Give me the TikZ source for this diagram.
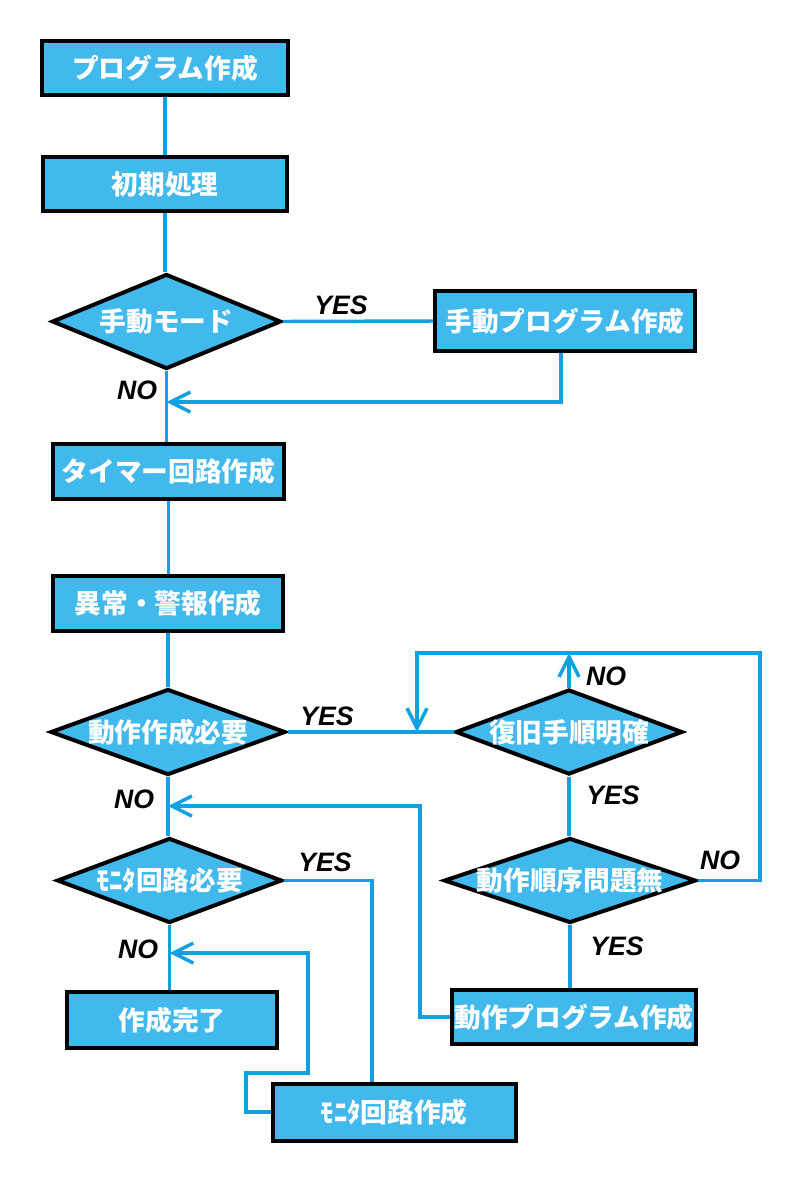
\documentclass[tikz,border=0pt]{standalone}
\usepackage{fontspec}
\setmainfont{Liberation Sans}
\newfontfamily\jp{Noto Sans CJK JP}
\usetikzlibrary{shapes.geometric,arrows.meta}
\definecolor{fillblue}{RGB}{65,185,237}
\definecolor{lineblue}{RGB}{18,160,225}
\newcommand\cjkt[1]{\makebox[0pt][c]{#1}}
\begin{document}
\begin{tikzpicture}[x=0.75pt,y=-0.75pt,
  box/.style={draw=black,line width=3pt,fill=fillblue,rectangle,inner sep=0pt,text=white,
    font=\jp\bfseries\fontsize{20pt}{24pt}\selectfont},
  dia/.style={box,diamond,aspect=2.5},
  conn/.style={draw=lineblue,line width=2.6pt},
  arr/.style={conn,-{Straight Barb[length=15pt,width=15pt]}},
  lbl/.style={font=\bfseries\itshape\fontsize{20pt}{24pt}\selectfont,text=black,inner sep=0pt}]
\useasboundingbox (0,0) rectangle (801,1200);
% nodes
\node[box,minimum width=184.5pt,minimum height=40.5pt] (b1) at (165,68) {\cjkt{プログラム作成}};
\node[box,minimum width=183pt,minimum height=40.5pt] (b2) at (165,184) {\cjkt{初期処理}};
\node[dia,minimum width=171.75pt,minimum height=71.25pt] (d1) at (166.5,321.5) {\cjkt{手動モード}};
\node[box,minimum width=195pt,minimum height=45pt] (b3) at (565,321) {\cjkt{手動プログラム作成}};
\node[box,minimum width=173.25pt,minimum height=41.25pt] (b4) at (168.5,471.5) {\cjkt{タイマー回路作成}};
\node[box,minimum width=172.5pt,minimum height=41.25pt] (b5) at (168,603.5) {\cjkt{異常・警報作成}};
\node[dia,minimum width=176.25pt,minimum height=64.5pt] (d2) at (168,732) {\cjkt{動作作成必要}};
\node[dia,minimum width=170.25pt,minimum height=63.75pt] (d3) at (569,732) {\cjkt{復旧手順明確}};
\node[dia,minimum width=189pt,minimum height=63.75pt] (d4) at (570,880.5) {\cjkt{動作順序問題無}};
\node[dia,minimum width=168.75pt,minimum height=63.75pt] (d5) at (169.5,880.5) {\cjkt{ﾓﾆﾀ回路必要}};
\node[box,minimum width=157.5pt,minimum height=42pt] (b6) at (172,1020) {\cjkt{作成完了}};
\node[box,minimum width=182.25pt,minimum height=42.75pt] (b7) at (394,1112) {\cjkt{ﾓﾆﾀ回路作成}};
\node[box,minimum width=183pt,minimum height=40.5pt] (b8) at (574,1017) {\cjkt{動作プログラム作成}};
% coordinates
\coordinate (j1) at (166.5,402);
% connectors
\draw[conn] (b1.south) -- (b1.south |- b2.north);
\draw[conn] (b2.south) -- (b2.south |- d1.north);
\draw[conn] (d1.south) -- (d1.south |- b4.north);
\draw[conn] (d1.east) -- (b3.west);
\draw[arr] ([xshift=-3pt]b3.south) |- (j1);
\draw[conn] (b4.south) -- (b4.south |- b5.north);
\draw[conn] (b5.south) -- (b5.south |- d2.north);
\draw[conn] (d2.east) -- (d3.west);
\draw[arr] (d3.north) -- (d3.north |- 0,653);
\draw[arr] (d4.east) -- (760,880.5) -- (760,653) -- (417,653) -- (417,732);
\draw[conn] (d3.south) -- (d3.south |- d4.north);
\draw[conn] (d4.south) -- (d4.south |- b8.north);
\draw[arr] (b8.west) -| (420,806) -- (d2.south |- 0,806);
\draw[conn] (d2.south) -- (d2.south |- d5.north);
\draw[conn] (d5.east) -| (b7.north -| 372,0);
\draw[conn] (d5.south) -- (d5.south |- b6.north);
\draw[arr] (b7.west) -- (246,1112) -- (246,1073) -- (308,1073) -- (308,953) -- (d5.south |- 0,953);
% labels
\node[lbl] (l1) at (341,305) {YES};
\node[lbl] (l2) at (137,390) {NO};
\node[lbl] (l3) at (327,716) {YES};
\node[lbl] (l4) at (134,799) {NO};
\node[lbl] (l5) at (606,676) {NO};
\node[lbl] (l6) at (613,795) {YES};
\node[lbl] (l7) at (720,860) {NO};
\node[lbl] (l8) at (325,862) {YES};
\node[lbl] (l9) at (617,946) {YES};
\node[lbl] (l10) at (138,949) {NO};
\end{tikzpicture}
\end{document}
